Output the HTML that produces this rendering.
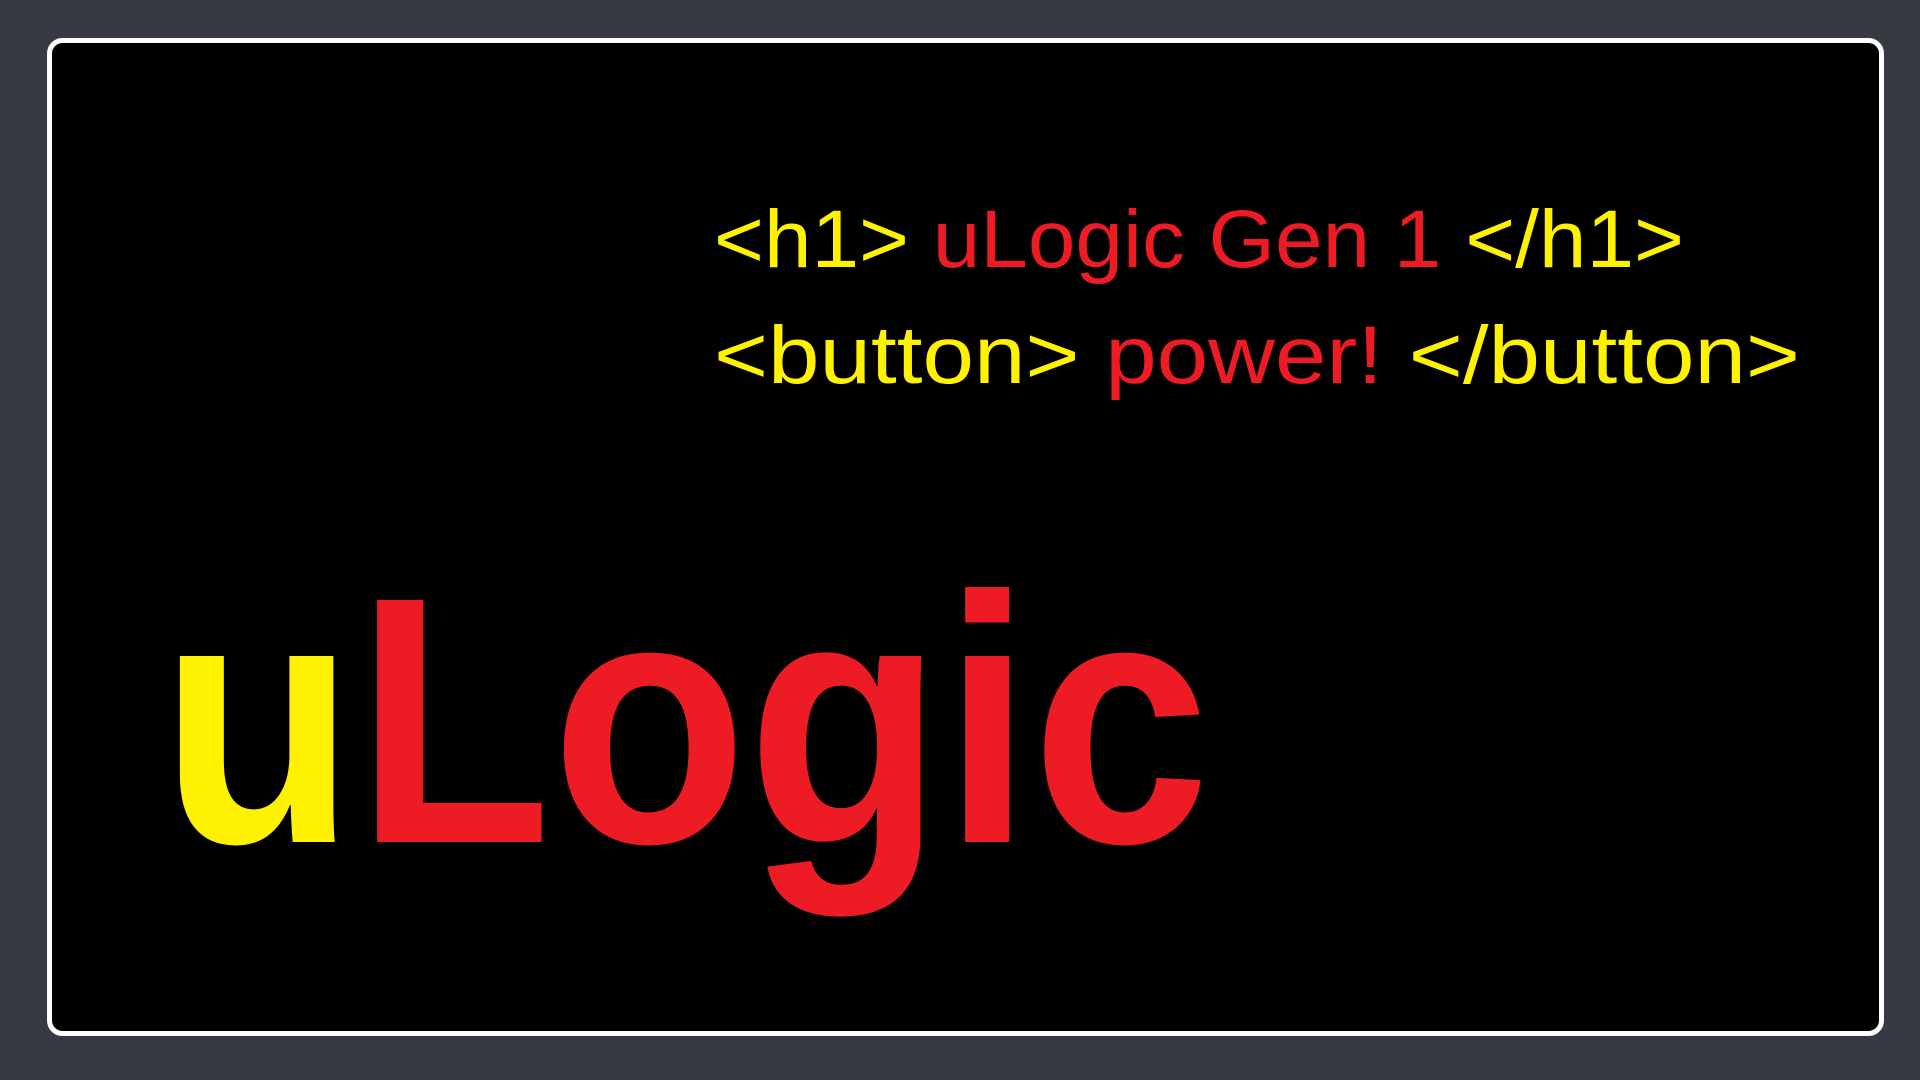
<!DOCTYPE html>
<html><head><style>
html,body{margin:0;padding:0;background:#373a42;width:1920px;height:1080px;overflow:hidden}
</style></head><body>
<svg width="1920" height="1080" viewBox="0 0 1920 1080" xmlns="http://www.w3.org/2000/svg" style="position:absolute;left:0;top:0">
<rect x="0" y="0" width="1920" height="1080" fill="#373a42"/>
<rect x="49.5" y="40.5" width="1832" height="993" rx="13" ry="13" fill="#000" stroke="#fff" stroke-width="5"/>
<g font-family="'Liberation Sans', sans-serif">
<text x="714" y="267" font-size="82" textLength="970" lengthAdjust="spacingAndGlyphs"><tspan fill="#fff200">&lt;h1&gt; </tspan><tspan fill="#ed1c24">uLogic Gen 1 </tspan><tspan fill="#fff200">&lt;/h1&gt;</tspan></text>
<text x="714" y="383" font-size="82" textLength="1086" lengthAdjust="spacingAndGlyphs"><tspan fill="#fff200">&lt;button&gt; </tspan><tspan fill="#ed1c24">power! </tspan><tspan fill="#fff200">&lt;/button&gt;</tspan></text>
<text x="160" y="842" font-size="352" font-weight="bold" textLength="1050" lengthAdjust="spacingAndGlyphs"><tspan fill="#fff200">u</tspan><tspan fill="#ed1c24">Logic</tspan></text>
</g>
</svg>
</body></html>
